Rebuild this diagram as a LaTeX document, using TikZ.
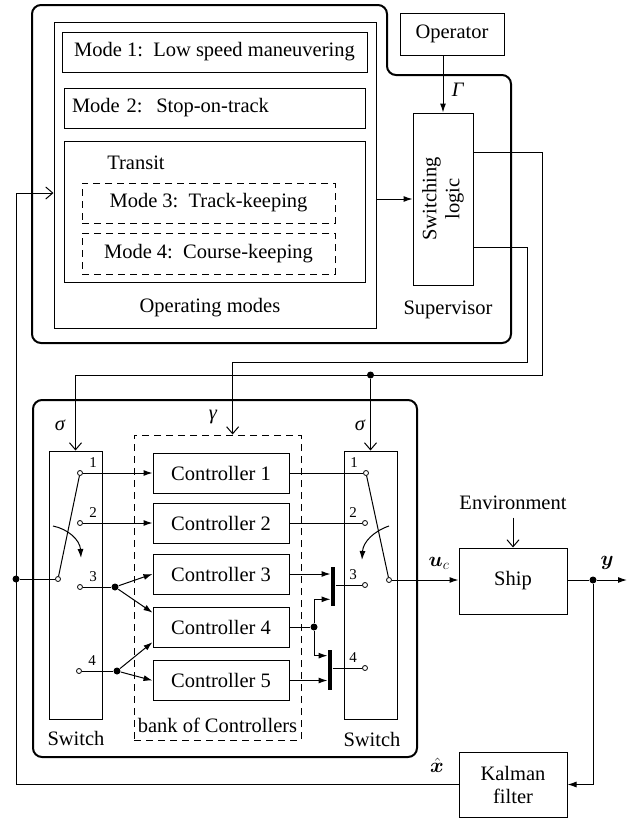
\documentclass[tikz,border=0pt]{standalone}
\usepackage{fontspec}
\setmainfont{Liberation Serif}
\usepackage{bm}
\usetikzlibrary{arrows.meta,positioning,calc}

\tikzset{
  blk/.style={draw, line width=1pt, inner sep=0pt},
  dblk/.style={blk, dash pattern=on 7pt off 5pt},
  ctrl/.style={blk, minimum width=136pt, minimum height=40pt},
  swbox/.style={blk, minimum width=53pt, minimum height=268pt},
  contact/.style={circle, draw, fill=white, line width=0.8pt, inner sep=0pt, minimum size=5pt},
  jdot/.style={circle, fill, inner sep=0pt, minimum size=7pt},
  busbar/.style={fill, inner sep=0pt, minimum width=4pt},
  num/.style={font=\fontsize{15}{16}\selectfont, inner sep=1pt},
  arr/.style={-{Latex[length=9pt,width=6pt]}},
  varr/.style={-{Straight Barb[length=7pt,width=12pt]}},
}

\begin{document}
\begin{tikzpicture}[x=1pt, y=-1pt, line width=1pt, font=\fontsize{20.5}{23}\selectfont]
    \useasboundingbox (0,0) rectangle (632,819);

    % supervisor
    \draw[line width=2pt, rounded corners=9pt] (32,343) -- (32,5) -- (387,5)
          -- (387,75) -- (511,75) -- (511,343) -- cycle;
    \node[blk, minimum width=322pt, minimum height=306pt] (opmodes) at (215,175) {};
    \node[blk, minimum width=305pt, minimum height=40pt] (mode1) at (214.5,52)
          {Mode 1:\ \ Low speed maneuvering};
    \node[blk, minimum width=301pt, minimum height=40pt, text width=285pt,
          align=left, inner xsep=8pt] (mode2) at (214.5,108) {Mode 2:\ \ Stop-on-track};
    \node[blk, minimum width=301pt, minimum height=141pt] (transit) at (214.5,211.5) {};
    \node (transitlbl) at (136,163) {Transit};
    \node[dblk, minimum width=253pt, minimum height=40pt] (mode3) at (208.5,203)
          {Mode 3:\ \ Track-keeping};
    \node[dblk, minimum width=253pt, minimum height=41pt] (mode4) at (208.5,253.5)
          {Mode 4:\ \ Course-keeping};
    \node (oplbl) at (210,308) {Operating modes};
    \node[blk, minimum width=104pt, minimum height=42pt] (operator) at (452,34) {Operator};
    \node[blk, minimum width=60pt, minimum height=172pt] (logic) at (443,199) {};
    \node[rotate=90, align=center] (logictxt) at (logic) {Switching\\logic};
    \node (suplbl) at (448,310) {Supervisor};
    \draw[arr] (logic.west -| opmodes.east) -- (logic.west);
    \draw[arr] (operator.south -| logic.north) -- (logic.north)
          node[pos=0.6, right=5pt] {\itshape Γ};

    % controlled part
    \draw[line width=2pt, rounded corners=9pt] (33,400) rectangle (417,757);
    \node[dblk, minimum width=167pt, minimum height=305pt] (bank) at (217.5,587.5) {};
    \node (banklbl) at (217.5,725) {bank of Controllers};
    \node[swbox] (lsw) at (75.5,585) {};
    \node[swbox] (rsw) at (370.5,585) {};
    \node (lswlbl) at (76,738) {Switch};
    \node (rswlbl) at (372,739) {Switch};
    \node at (60,425) {\itshape σ};
    \node at (360,425) {\itshape σ};
    \node at (213,417) {\itshape γ};
    \foreach \i/\y in {1/473,2/523,3/574,4/627,5/680.5}
        \node[ctrl] (c\i) at (221,\y) {Controller \i};

    % switch contacts
    \node[contact] (l1) at (80,473) {};
    \node[contact] (l2) at (80,523) {};
    \node[contact] (l3) at (80,587) {};
    \node[contact] (l4) at (79,671) {};
    \node[contact] (lp) at (58,579) {};
    \node[contact] (r1) at (366,473) {};
    \node[contact] (r2) at (365,523) {};
    \node[contact] (r3) at (365,585) {};
    \node[contact] (r4) at (365,668) {};
    \node[contact] (rp) at (389,580) {};
    \foreach \i in {1,2,3,4} {
        \node[num] at ($(l\i)+(13,-10)$) {\i};
        \node[num] at ($(r\i)+(-12,-10)$) {\i};
    }
    \draw (lp) -- (l1);
    \draw (rp) -- (r1);
    \draw[arr] (53,526) .. controls (68,529) and (80,540) .. (81,558);
    \draw[arr] (389,526) .. controls (374,531) and (363,542) .. (362,560);

    % switch to controllers
    \draw[arr] (l1) -- (c1.west);
    \draw[arr] (l2) -- (c2.west);
    \node[jdot] (j3) at (115,587) {};
    \node[jdot] (j4) at (117,671) {};
    \draw (l3) -- (j3);
    \draw (l4) -- (j4);
    \draw[arr] (j3) -- (c3.west);
    \draw[arr] (j3) -- ($(c4.north west)!0.15!(c4.south west)$);
    \draw[arr] (j4) -- ($(c4.north west)!0.87!(c4.south west)$);
    \draw[arr] (j4) -- (c5.west);

    % controllers to switch
    \draw (c1.east) -- (r1);
    \draw (c2.east) -- (r2);
    \node[busbar, minimum height=39pt] (bar1) at (333,586.5) {};
    \node[busbar, minimum height=40pt] (bar2) at (330,670) {};
    \node[jdot] (j5) at (314,627) {};
    \draw[arr] (c3.east) -- (c3.east -| bar1.west);
    \draw (c4.east) -- (j5);
    \draw[arr] (j5) |- ($(bar1.north west)!0.82!(bar1.south west)$);
    \draw[arr] (j5) |- ($(bar2.north west)!0.15!(bar2.south west)$);
    \draw[arr] (c5.east) -- (c5.east -| bar2.west);
    \draw (bar1.east |- r3) -- (r3);
    \draw (bar2.east |- r4) -- (r4);

    % switching signals
    \coordinate (sigbus) at (542,375);
    \coordinate (gambus) at (527,362);
    \draw[varr] ($(logic.north east)!0.233!(logic.south east)$) -| (sigbus) -| (lsw.north);
    \node[jdot] (sigdot) at (rsw.north |- sigbus) {};
    \draw[varr] (sigdot) -- (rsw.north);
    \draw[varr] ($(logic.north east)!0.779!(logic.south east)$) -| (gambus)
          -| ($(bank.north west)!0.59!(bank.north east)$);

    % ship and observer
    \node[blk, minimum width=108pt, minimum height=66pt] (ship) at (513,581) {Ship};
    \node (env) at (513,503) {Environment};
    \draw[varr] ([yshift=-4pt]env.south) -- (ship.north);
    \draw[arr] (rp) -- (rp -| ship.west);
    \node at (439,563) {$\bm{u}_{c}$};
    \node[jdot] (ydot) at (593,580) {};
    \coordinate (yend) at (627,580);
    \draw (ship.east |- ydot) -- (ydot);
    \draw[arr] (ydot) -- (yend);
    \node at (607,563) {$\bm{y}$};
    \node[blk, minimum width=108pt, minimum height=65pt, align=center] (kalman)
          at (513,784.5) {Kalman\\filter};
    \draw[arr] (ydot) |- (kalman.east);
    \node at (437,765) {$\hat{\bm{x}}$};
    \coordinate (fbtop) at (16,193);
    \draw[varr] (kalman.west) -| (fbtop) -- (fbtop -| opmodes.west);
    \node[jdot] (fbdot) at (16,579) {};
    \draw (fbdot) -- (lp);
\end{tikzpicture}
\end{document}
